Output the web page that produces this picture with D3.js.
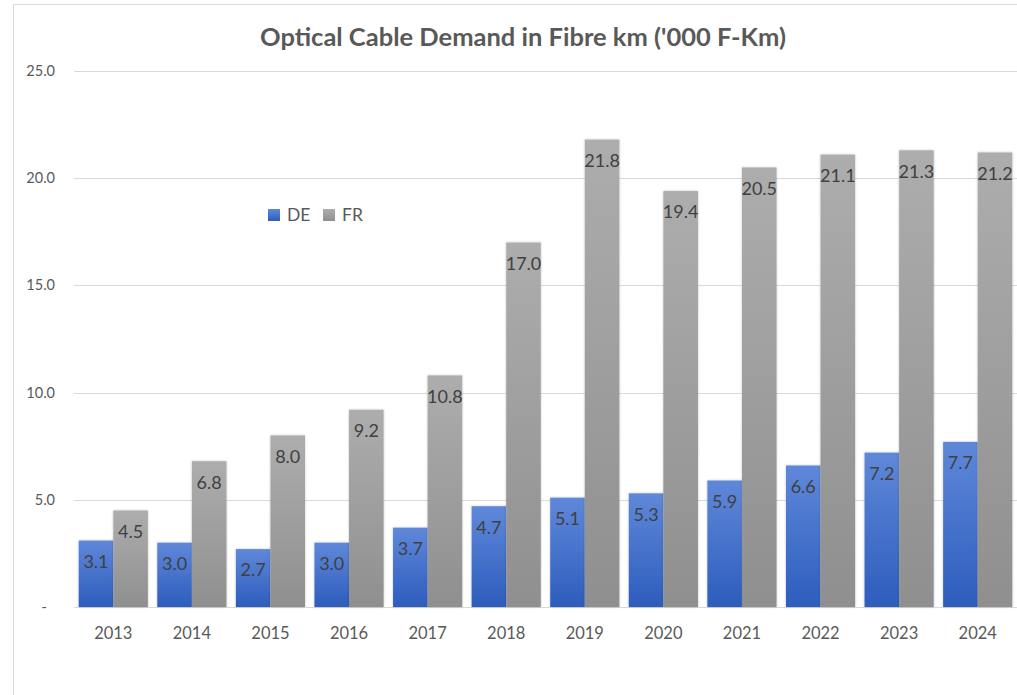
<!DOCTYPE html>
<html>
<head>
<meta charset="utf-8">
<script src="https://cdn.jsdelivr.net/npm/d3@7"></script>
<style>
  body { margin: 0; background: #fff; }
  svg { display: block; font-family: Lato, "Open Sans", sans-serif; }
</style>
</head>
<body>
<svg id="chart"></svg>
<script>
// values
var years = ["2013","2014","2015","2016","2017","2018","2019","2020","2021","2022","2023","2024"];
var deValues = [3.1, 3.0, 2.7, 3.0, 3.7, 4.7, 5.1, 5.3, 5.9, 6.6, 7.2, 7.7];
var frValues = [4.5, 6.8, 8.0, 9.2, 10.8, 17.0, 21.8, 19.4, 20.5, 21.1, 21.3, 21.2];
var seriesNames = ["DE", "FR"];
var yTicks = [0, 5, 10, 15, 20, 25];

var W = 1017, H = 695;
var margin = {top: 71, right: 0, bottom: 88, left: 74};
var width = W - margin.left - margin.right,
    height = H - margin.top - margin.bottom;

var svg = d3.select("#chart").attr("width", W).attr("height", H);

var defs = svg.append("defs");
function grad(id, top, bottom) {
  var lg = defs.append("linearGradient").attr("id", id)
    .attr("x1", 0).attr("y1", 0).attr("x2", 0).attr("y2", 1);
  lg.append("stop").attr("offset", "0%").attr("stop-color", top);
  lg.append("stop").attr("offset", "100%").attr("stop-color", bottom);
}
grad("gDE", "#5f88d9", "#2d5dbd");
grad("gFR", "#adadad", "#8f8f8f");
var f = defs.append("filter").attr("id", "shadow")
  .attr("x", "-20%").attr("y", "-5%").attr("width", "140%").attr("height", "110%");
f.append("feDropShadow").attr("dx", 0).attr("dy", 0).attr("stdDeviation", 1.2)
  .attr("flood-color", "#000").attr("flood-opacity", 0.25);

// outer frame (partly cropped in the reference)
svg.append("path")
  .attr("d", "M13.5," + H + "V4.5H" + W)
  .attr("fill", "none").attr("stroke", "#d9d9d9").attr("stroke-width", 1);

svg.append("text")
  .attr("x", 523).attr("y", 46)
  .attr("text-anchor", "middle")
  .attr("fill", "#595959")
  .style("font-size", "25.5px").style("font-weight", "bold")
  .text("Optical Cable Demand in Fibre km ('000 F-Km)");

var g = svg.append("g").attr("transform", "translate(" + margin.left + "," + margin.top + ")");

var x0 = d3.scaleBand().domain(years).range([0, width]).paddingInner(0.12).paddingOuter(0.06);
var x1 = d3.scaleBand().domain(seriesNames).range([0, x0.bandwidth()]);
var y = d3.scaleLinear().domain([0, 25]).range([height, 0]);
var fills = {DE: "url(#gDE)", FR: "url(#gFR)"};

// grid
g.append("g").selectAll("line").data(yTicks).enter().append("line")
  .attr("x1", 0).attr("x2", width)
  .attr("y1", function(d) { return Math.round(y(d)) + 0.5; })
  .attr("y2", function(d) { return Math.round(y(d)) + 0.5; })
  .attr("stroke", "#d9d9d9");

// y labels
g.append("g").selectAll("text").data(yTicks).enter().append("text")
  .attr("x", function(d) { return d === 0 ? -27 : -19; })
  .attr("y", function(d) { return y(d); })
  .attr("dy", "0.35em")
  .attr("text-anchor", "end")
  .attr("fill", "#595959")
  .style("font-size", "14.5px")
  .text(function(d) { return d === 0 ? "-" : d.toFixed(1); });

// x axis labels
var xAxis = d3.axisBottom(x0).tickSize(0).tickPadding(20);
var xg = g.append("g").attr("transform", "translate(0," + height + ")").call(xAxis);
xg.select(".domain").remove();
xg.selectAll("text").attr("fill", "#595959").style("font-size", "16.5px")
  .style("font-family", "Lato, sans-serif");

var rows = years.map(function(yr, i) {
  return {year: yr, values: [{key: "DE", v: deValues[i]}, {key: "FR", v: frValues[i]}]};
});

var grp = g.selectAll(".yr").data(rows).enter().append("g")
  .attr("class", "yr")
  .attr("transform", function(d) { return "translate(" + x0(d.year) + ",0)"; });

grp.selectAll("rect").data(function(d) { return d.values; }).enter().append("rect")
  .attr("x", function(d) { return x1(d.key); })
  .attr("width", x1.bandwidth())
  .attr("y", function(d) { return y(d.v); })
  .attr("height", function(d) { return height - y(d.v); })
  .attr("fill", function(d) { return fills[d.key]; })
  .attr("filter", "url(#shadow)");

grp.selectAll(".lbl").data(function(d) { return d.values; }).enter().append("text")
  .attr("class", "lbl")
  .attr("x", function(d) { return x1(d.key) + x1.bandwidth() / 2; })
  .attr("y", function(d) { return y(d.v) + 21; })
  .attr("dy", "0.35em")
  .attr("text-anchor", "middle")
  .attr("fill", "#404040")
  .style("font-size", "18px")
  .text(function(d) { return d.v.toFixed(1); });

// legend
var legend = svg.append("g").attr("transform", "translate(268,209)");
var li = legend.selectAll("g").data(seriesNames).enter().append("g")
  .attr("transform", function(d, i) { return "translate(" + (i * 55) + ",0)"; });
li.append("rect").attr("width", 12).attr("height", 12)
  .attr("fill", function(d) { return fills[d]; });
li.append("text").attr("x", 19).attr("y", 6).attr("dy", "0.35em")
  .attr("fill", "#595959").style("font-size", "17.5px")
  .text(function(d) { return d; });
</script>
</body>
</html>
